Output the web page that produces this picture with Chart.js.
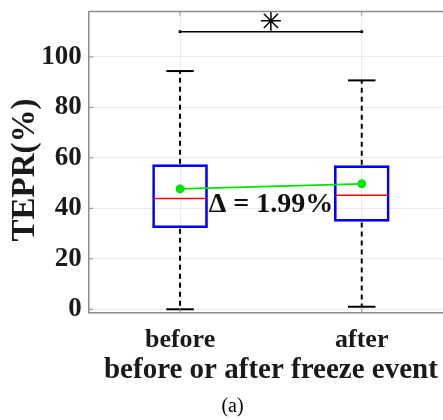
<!DOCTYPE html>
<html><head><meta charset="utf-8">
<script src="https://cdn.jsdelivr.net/npm/chart.js@4/dist/chart.umd.min.js"></script>
<style>
html,body{margin:0;padding:0;overflow:hidden;background:#fff;width:443px;height:420px}
#wrap{position:relative;width:480px;height:420px}
</style></head>
<body>
<div id="wrap"><canvas id="c" width="480" height="420"></canvas></div>
<script>
const categories = ['before', 'after'];
const q1 = [32.3, 34.8];
const q3 = [57.3, 56.9];
const medians = [43.9, 45.2];
const means = [47.7, 49.7];
const whiskerLow = [0, 1.0];
const whiskerHigh = [94.4, 90.7];
const yTicks = [0, 20, 40, 60, 80, 100];
const sigLevel = 110;
const sigMarkLevel = 114.3;
const deltaLevel = 41.5;
const deltaLabel = 'Δ = 1.99%';
const yTitle = 'TEPR(%)';
const xTitle = 'before or after freeze event';
const caption = '(a)';

const FONT = '"Liberation Serif", "Times New Roman", serif';
const AXIS = '#8c8c8c';
const GRID = '#ebebeb';
const TEXT = '#1a1a1a';

const xPos = categories.map((c, i) => i + 1);

const boxPlugin = {
  id: 'boxParts',
  afterDatasetsDraw(chart) {
    const {ctx, scales: {x, y}} = chart;
    const meta = chart.getDatasetMeta(0);
    const line = (x1, y1, x2, y2) => { ctx.beginPath(); ctx.moveTo(x1, y1); ctx.lineTo(x2, y2); ctx.stroke(); };
    ctx.save();
    categories.forEach((c, i) => {
      const bar = meta.data[i];
      const cx = x.getPixelForValue(xPos[i]);
      const hw = bar.width / 2;
      const yHi = y.getPixelForValue(whiskerHigh[i]);
      const yLo = y.getPixelForValue(whiskerLow[i]);
      ctx.strokeStyle = '#000';
      ctx.lineWidth = 2;
      ctx.setLineDash([5, 4]);
      line(cx, y.getPixelForValue(q3[i]) - 1, cx, yHi);
      line(cx, y.getPixelForValue(q1[i]) + 1, cx, yLo);
      ctx.setLineDash([]);
      line(cx - hw / 2, yHi, cx + hw / 2, yHi);
      line(cx - hw / 2, yLo, cx + hw / 2, yLo);
      ctx.strokeStyle = '#ff0000';
      ctx.lineWidth = 1.6;
      const ym = y.getPixelForValue(medians[i]);
      line(cx - hw + 1, ym, cx + hw - 1, ym);
    });
    ctx.restore();
  },
  afterDraw(chart) {
    const {ctx, scales: {x, y}, chartArea: a} = chart;
    ctx.save();
    ctx.strokeStyle = AXIS;
    ctx.lineWidth = 1.5;
    ctx.beginPath(); ctx.moveTo(a.left, a.top); ctx.lineTo(a.right, a.top); ctx.stroke();
    ctx.lineWidth = 1;
    yTicks.forEach(v => {
      const py = y.getPixelForValue(v);
      ctx.beginPath(); ctx.moveTo(a.left, py); ctx.lineTo(a.left + 4, py); ctx.stroke();
    });
    xPos.forEach(v => {
      const px = x.getPixelForValue(v);
      ctx.beginPath(); ctx.moveTo(px, a.top); ctx.lineTo(px, a.top + 4); ctx.stroke();
      ctx.beginPath(); ctx.moveTo(px, a.bottom); ctx.lineTo(px, a.bottom - 4); ctx.stroke();
    });
    ctx.fillStyle = '#111';
    ctx.font = 'bold 28px ' + FONT;
    ctx.textAlign = 'center';
    ctx.textBaseline = 'middle';
    ctx.fillText(deltaLabel, x.getPixelForValue((xPos[0] + xPos[1]) / 2), y.getPixelForValue(deltaLevel));
    ctx.save();
    ctx.translate(25, 170);
    ctx.rotate(-Math.PI / 2);
    ctx.font = 'bold 33px ' + FONT;
    ctx.fillStyle = TEXT;
    ctx.fillText(yTitle, 0, 0);
    ctx.restore();
    ctx.font = '20px ' + FONT;
    ctx.fillStyle = '#000';
    ctx.fillText(caption, 232.5, 407);
    ctx.restore();
  }
};

new Chart(document.getElementById('c'), {
  data: {
    datasets: [
      {
        type: 'bar',
        data: xPos.map((xv, i) => ({x: xv, y: [q1[i], q3[i]]})),
        backgroundColor: 'rgba(0,0,0,0)',
        borderColor: '#0000ff',
        borderWidth: 2,
        borderSkipped: false,
        barThickness: 55,
        order: 3
      },
      {
        type: 'line',
        data: xPos.map((xv, i) => ({x: xv, y: means[i]})),
        borderColor: '#00e600',
        backgroundColor: '#00e600',
        borderWidth: 1.8,
        pointRadius: 4.5,
        pointBackgroundColor: '#00e600',
        pointBorderWidth: 0,
        order: 1
      },
      {
        type: 'line',
        data: xPos.map(xv => ({x: xv, y: sigLevel})),
        borderColor: '#000',
        backgroundColor: '#000',
        borderWidth: 1.6,
        pointRadius: 1.6,
        pointBorderWidth: 0,
        order: 1
      },
      {
        type: 'scatter',
        data: [{x: (xPos[0] + xPos[1]) / 2, y: sigMarkLevel}],
        pointStyle: 'star',
        pointRadius: 10,
        borderColor: '#000',
        borderWidth: 1.5,
        order: 1
      }
    ]
  },
  options: {
    responsive: false,
    animation: false,
    events: [],
    layout: {padding: {top: 9.7, right: 27.4, left: 0, bottom: 0}},
    plugins: {legend: {display: false}, tooltip: {enabled: false}},
    scales: {
      x: {
        type: 'linear',
        min: 0.5, max: 2.5,
        offset: false,
        afterBuildTicks: s => { s.ticks = xPos.map(v => ({value: v})); },
        afterFit: s => { s.height = 107.7; s.paddingLeft = 0; s.paddingRight = 0; },
        ticks: {
          callback: v => categories[xPos.indexOf(v)] ?? '',
          font: {family: FONT, size: 26, weight: 'bold'},
          color: TEXT,
          padding: 12,
          maxRotation: 0
        },
        grid: {color: GRID, drawTicks: false, offset: false},
        border: {color: AXIS, width: 1.5},
        title: {
          display: true, text: xTitle,
          font: {family: FONT, size: 29, weight: 'bold'},
          color: TEXT,
          padding: {top: 0, bottom: 32}
        }
      },
      y: {
        type: 'linear',
        min: -1.2, max: 118,
        afterBuildTicks: s => { s.ticks = yTicks.map(v => ({value: v})); },
        afterFit: s => { s.width = 89.2; s.paddingTop = 0; s.paddingBottom = 0; },
        ticks: {
          font: {family: FONT, size: 27, weight: 'bold'},
          color: TEXT,
          padding: 7.5
        },
        grid: {color: GRID, drawTicks: false},
        border: {color: AXIS, width: 1.5}
      }
    }
  },
  plugins: [boxPlugin]
});
</script>
</body></html>
